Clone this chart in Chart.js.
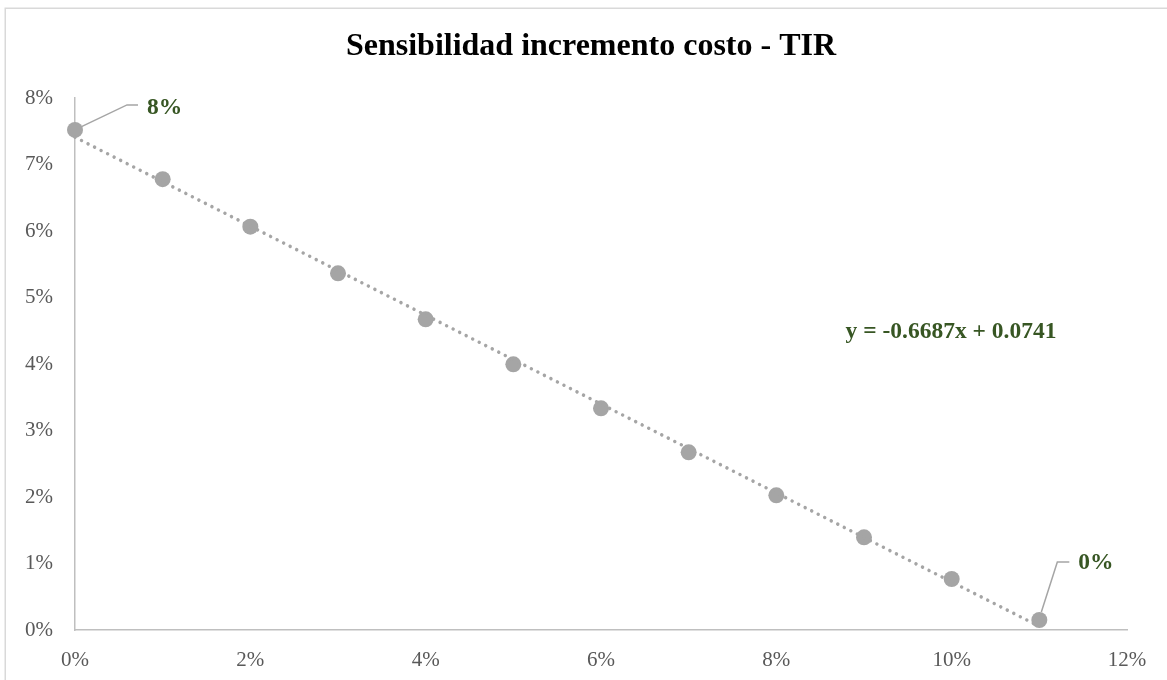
<!DOCTYPE html>
<html>
<head>
<meta charset="utf-8">
<title>Sensibilidad incremento costo - TIR</title>
<script src="https://cdn.jsdelivr.net/npm/chart.js@4/dist/chart.umd.min.js"></script>
<style>
  html, body { margin: 0; padding: 0; background: #ffffff; }
  #wrap { width: 1167px; height: 680px; position: relative; }
</style>
</head>
<body>
<div id="wrap"><canvas id="chart" width="1167" height="680"></canvas></div>
<script>
// Cost increment (x) and resulting IRR (y), both as fractions
const incrementoCosto = [0, 0.01, 0.02, 0.03, 0.04, 0.05, 0.06, 0.07, 0.08, 0.09, 0.10, 0.11];
const tir = [0.0752, 0.0678, 0.06065, 0.05364, 0.04672, 0.03995, 0.03334, 0.02672, 0.02025, 0.01394, 0.00767, 0.0015];

// Linear trendline coefficients
const pendiente = -0.6687;
const intercepto = 0.0741;

// Axis tick definitions
const xTicks = [0, 0.02, 0.04, 0.06, 0.08, 0.10, 0.12];
const yTicks = [0, 0.01, 0.02, 0.03, 0.04, 0.05, 0.06, 0.07, 0.08];

// Points that carry a value label
const puntosEtiquetados = [0, 11];

const SERIF = "'Liberation Serif', 'Times New Roman', serif";
const VERDE = '#375623';
const GRIS = '#a5a5a5';

const puntos = incrementoCosto.map((x, i) => ({ x: x, y: tir[i] }));
const xFinTendencia = incrementoCosto[incrementoCosto.length - 1];
const tendencia = [
  { x: incrementoCosto[0], y: pendiente * incrementoCosto[0] + intercepto },
  { x: xFinTendencia, y: pendiente * xFinTendencia + intercepto }
];

const pct = v => Math.round(v * 100) + '%';

// Outer frame of the chart
const marco = {
  id: 'marco',
  beforeDraw(chart) {
    const ctx = chart.ctx;
    ctx.save();
    ctx.fillStyle = '#ffffff';
    ctx.fillRect(0, 0, chart.width, chart.height);
    ctx.strokeStyle = '#d9d9d9';
    ctx.lineWidth = 1.5;
    ctx.strokeRect(5.25, 8.25, 1180, 700);
    ctx.restore();
  }
};

// Value labels with leader lines, plus the trendline equation
const etiquetas = {
  id: 'etiquetas',
  afterDatasetsDraw(chart) {
    const ctx = chart.ctx;
    const meta = chart.getDatasetMeta(1);
    const xs = chart.scales.x, ys = chart.scales.y;
    ctx.save();
    ctx.font = 'bold 23.5px ' + SERIF;
    ctx.fillStyle = VERDE;
    ctx.textBaseline = 'middle';
    ctx.textAlign = 'left';
    ctx.strokeStyle = GRIS;
    ctx.lineWidth = 1.5;

    puntosEtiquetados.forEach(i => {
      const el = meta.data[i];
      const px = el.x, py = el.y;
      let path, tx, ty;
      if (i === 0) {
        path = [[px + 6, py - 3], [px + 52, py - 25], [px + 63, py - 25]];
        tx = px + 72; ty = py - 22;
      } else {
        path = [[px + 2, py - 8], [px + 18, py - 58], [px + 30, py - 58]];
        tx = px + 39; ty = py - 57;
      }
      ctx.beginPath();
      ctx.moveTo(path[0][0], path[0][1]);
      for (let k = 1; k < path.length; k++) ctx.lineTo(path[k][0], path[k][1]);
      ctx.stroke();
      ctx.fillText(pct(tir[i]), tx, ty);
    });

    // Trendline equation
    const eq = 'y = ' + pendiente.toFixed(4) + 'x + ' + intercepto.toFixed(4);
    ctx.fillText(eq, xs.getPixelForValue(0.0879), ys.getPixelForValue(0.0448));
    ctx.restore();
  }
};

new Chart(document.getElementById('chart'), {
  type: 'scatter',
  data: {
    datasets: [
      {
        type: 'line',
        label: 'Lineal',
        data: tendencia,
        borderColor: GRIS,
        borderWidth: 3.5,
        borderDash: [0.01, 7.3],
        borderCapStyle: 'round',
        pointRadius: 0,
        fill: false,
        clip: false,
        order: 1
      },
      {
        label: 'TIR',
        data: puntos,
        backgroundColor: GRIS,
        borderColor: GRIS,
        pointRadius: 8,
        pointHoverRadius: 8,
        borderWidth: 0,
        showLine: false,
        clip: false,
        order: 2
      }
    ]
  },
  options: {
    responsive: false,
    animation: false,
    layout: { padding: { left: 15, right: 0, top: 0, bottom: 0 } },
    plugins: {
      legend: { display: false },
      tooltip: { enabled: false },
      title: {
        display: true,
        text: 'Sensibilidad incremento costo - TIR',
        color: '#000000',
        font: { family: SERIF, size: 32, weight: 'bold', lineHeight: 1.2 },
        padding: { top: 28, bottom: 31.6 }
      }
    },
    scales: {
      x: {
        type: 'linear',
        min: 0,
        max: 0.12,
        afterBuildTicks: s => { s.ticks = xTicks.map(v => ({ value: v })); },
        afterFit: s => { s.height = 50; },
        grid: { display: false, drawTicks: false },
        border: { display: true, color: '#bfbfbf', width: 1.5 },
        ticks: {
          callback: v => pct(v),
          color: '#595959',
          font: { family: SERIF, size: 21 },
          padding: 18,
          maxRotation: 0
        }
      },
      y: {
        type: 'linear',
        min: 0,
        max: 0.08,
        afterBuildTicks: s => { s.ticks = yTicks.map(v => ({ value: v })); },
        afterFit: s => { s.width = 60; },
        grid: { display: false, drawTicks: false },
        border: { display: true, color: '#bfbfbf', width: 1.5 },
        ticks: {
          callback: v => pct(v),
          color: '#595959',
          font: { family: SERIF, size: 21 },
          padding: 22
        }
      },
      // Empty right-hand margin beside the plot
      margenDerecho: {
        type: 'linear',
        position: 'right',
        display: true,
        afterFit: s => { s.width = 40; },
        grid: { display: false, drawTicks: false },
        border: { display: false },
        ticks: { display: false }
      }
    }
  },
  plugins: [marco, etiquetas]
});
</script>
</body>
</html>
